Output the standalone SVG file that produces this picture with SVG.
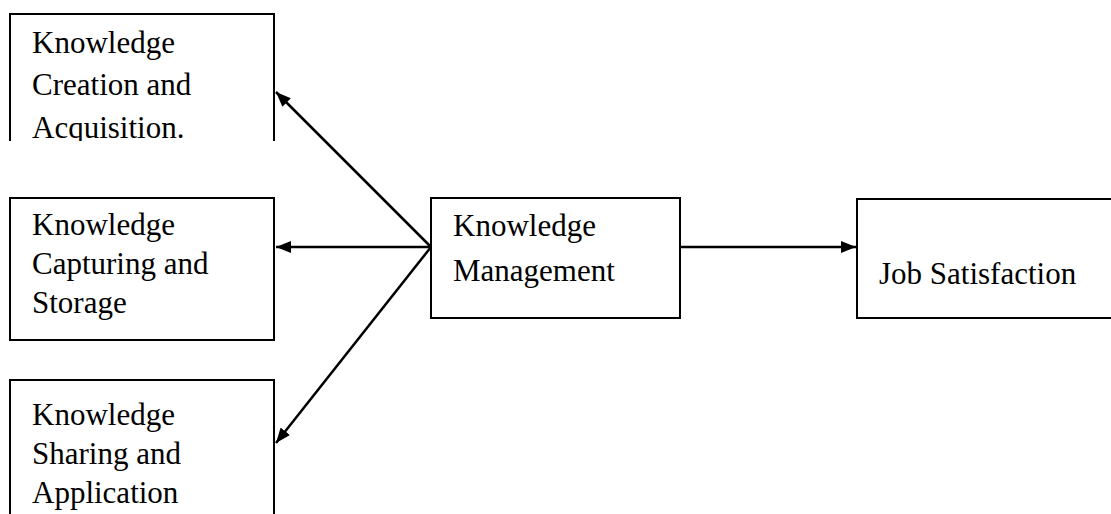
<svg xmlns="http://www.w3.org/2000/svg" width="1111" height="514" viewBox="0 0 1111 514">
<style>
.box{fill:#fff;stroke:#000;stroke-width:2}
.t{font-family:"Liberation Serif","Times New Roman",serif;font-size:31px;fill:#000}
.c{stroke:#000;stroke-width:2.5;fill:none}
</style>
<defs>
<marker id="ah" viewBox="0 0 15 12" refX="15" refY="6" markerWidth="15" markerHeight="12" markerUnits="userSpaceOnUse" orient="auto"><path d="M0,0 L15,6 L0,12 z" fill="#000"/></marker>
<clipPath id="cp1"><rect x="0" y="0" width="300" height="141"/></clipPath>
</defs>
<rect width="1111" height="514" fill="#fff"/>
<g id="connectors">
<line class="c" x1="431" y1="247" x2="276" y2="92" marker-end="url(#ah)"/>
<line class="c" x1="431" y1="247" x2="276" y2="247" marker-end="url(#ah)"/>
<line class="c" x1="431" y1="247" x2="276" y2="443" marker-end="url(#ah)"/>
<line class="c" x1="680" y1="247" x2="856" y2="247" marker-end="url(#ah)"/>
</g>
<g id="n1">
<g clip-path="url(#cp1)">
<rect class="box" x="10" y="14" width="264" height="160"/>
<text class="t" x="32" y="53">Knowledge</text>
<text class="t" x="32" y="95">Creation and</text>
<text class="t" x="32" y="138">Acquisition.</text>
</g>
</g>
<g id="n2">
<rect class="box" x="10" y="198" width="264" height="142"/>
<text class="t" x="32" y="235">Knowledge</text>
<text class="t" x="32" y="274">Capturing and</text>
<text class="t" x="32" y="313">Storage</text>
</g>
<g id="n3">
<rect class="box" x="10" y="380" width="264" height="150"/>
<text class="t" x="32" y="425">Knowledge</text>
<text class="t" x="32" y="464">Sharing and</text>
<text class="t" x="32" y="503">Application</text>
</g>
<g id="n4">
<rect class="box" x="431" y="198" width="249" height="120"/>
<text class="t" x="453" y="236">Knowledge</text>
<text class="t" x="453" y="281">Management</text>
</g>
<g id="n5">
<rect class="box" x="857" y="199" width="260" height="119"/>
<text class="t" x="879" y="284">Job Satisfaction</text>
</g>
</svg>
